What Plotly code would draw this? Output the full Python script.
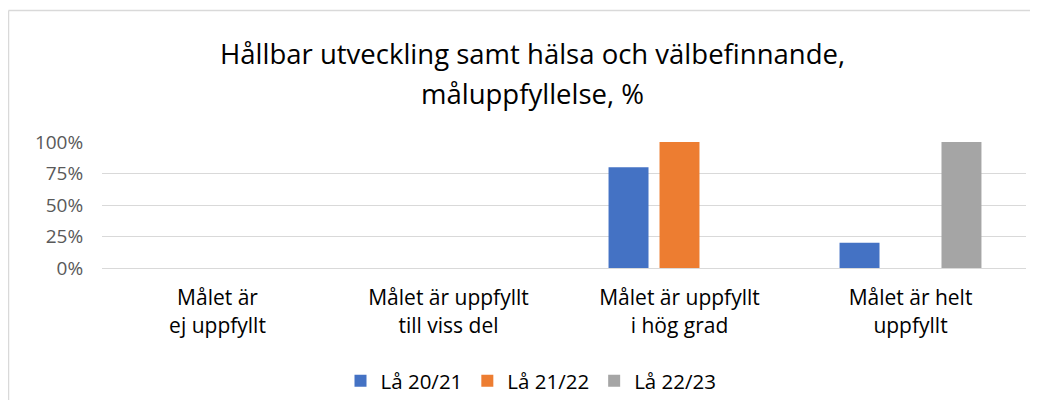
import plotly.graph_objects as go

categories = ["Målet är<br>ej uppfyllt", "Målet är uppfyllt<br>till viss del",
              "Målet är uppfyllt<br>i hög grad", "Målet är helt<br>uppfyllt"]
series_names = ["Lå 20/21", "Lå 21/22", "Lå 22/23"]
values_2021 = [0, 0, 0.80, 0.20]
values_2122 = [0, 0, 1.00, 0]
values_2223 = [0, 0, 0, 1.00]
colors = ["#4472C4", "#ED7D31", "#A5A5A5"]
title_lines = ["Hållbar utveckling samt hälsa och välbefinnande,", "måluppfyllelse, %"]
y_ticks = [0, 0.25, 0.5, 0.75, 1.0]
y_ticktext = ["0%", "25%", "50%", "75%", "100%"]

FONT = "Open Sans, sans-serif"
OFF = 8  # page offset of the figure inside the browser window
W, H = 1022, 392
# desired plot area in window pixels: x 102..1026, y 142..268
L = 102 - OFF
R = W - (1026 - OFF)
T = 142 - OFF
B = H - (268 - OFF)
pw, ph = W - L - R, H - T - B


def px_x(px):
    return (px - OFF - L) / pw


def px_y(py):
    return (H - B - (py - OFF)) / ph


fig = go.Figure()
for name, vals, c in zip(series_names, [values_2021, values_2122, values_2223], colors):
    fig.add_trace(go.Bar(x=list(range(len(categories))), y=vals, name=name,
                         marker=dict(color=c, line=dict(width=0))))

annotations = [
    dict(text=title_lines[0], x=px_x(532), y=px_y(53), xref="paper", yref="paper",
         showarrow=False, font=dict(family=FONT, size=27.5, color="#000000"),
         xanchor="center", yanchor="middle"),
    dict(text=title_lines[1], x=px_x(532), y=px_y(93), xref="paper", yref="paper",
         showarrow=False, font=dict(family=FONT, size=27.5, color="#000000"),
         xanchor="center", yanchor="middle"),
]

fig.update_layout(
    width=W, height=H,
    margin=dict(l=L, r=R, t=T, b=B, autoexpand=False),
    paper_bgcolor="white", plot_bgcolor="white",
    barmode="group", bargap=0.338, bargroupgap=0.216,
    font=dict(family=FONT, color="#595959"),
    annotations=annotations,
    showlegend=True,
    legend=dict(orientation="h", x=px_x(531), y=px_y(381), xanchor="center", yanchor="middle",
                font=dict(family=FONT, size=20.5, color="#000000"),
                itemwidth=30, traceorder="normal"),
    shapes=[
        dict(type="line", xref="paper", yref="paper", x0=px_x(8.5), x1=px_x(1060),
             y0=px_y(10.5), y1=px_y(10.5), line=dict(color="#D9D9D9", width=1.5)),
        dict(type="line", xref="paper", yref="paper", x0=px_x(8.5), x1=px_x(8.5),
             y0=px_y(10.5), y1=px_y(430), line=dict(color="#D9D9D9", width=1.5)),
    ],
    xaxis=dict(tickmode="array", tickvals=list(range(len(categories))), ticktext=categories,
               range=[-0.5, 3.5], showgrid=False, showline=False, zeroline=False,
               ticks="outside", ticklen=11, tickcolor="rgba(0,0,0,0)",
               tickfont=dict(family=FONT, size=21, color="#000000")),
    yaxis=dict(range=[0, 1.0], tickmode="array", tickvals=y_ticks, ticktext=y_ticktext,
               showgrid=True, gridcolor="#D9D9D9", gridwidth=1.3, zeroline=True,
               zerolinecolor="#D9D9D9", zerolinewidth=1.3, showline=False,
               ticks="outside", ticklen=14, tickcolor="rgba(0,0,0,0)",
               tickfont=dict(family=FONT, size=19, color="#595959")),
)

fig.write_html("out.html")
